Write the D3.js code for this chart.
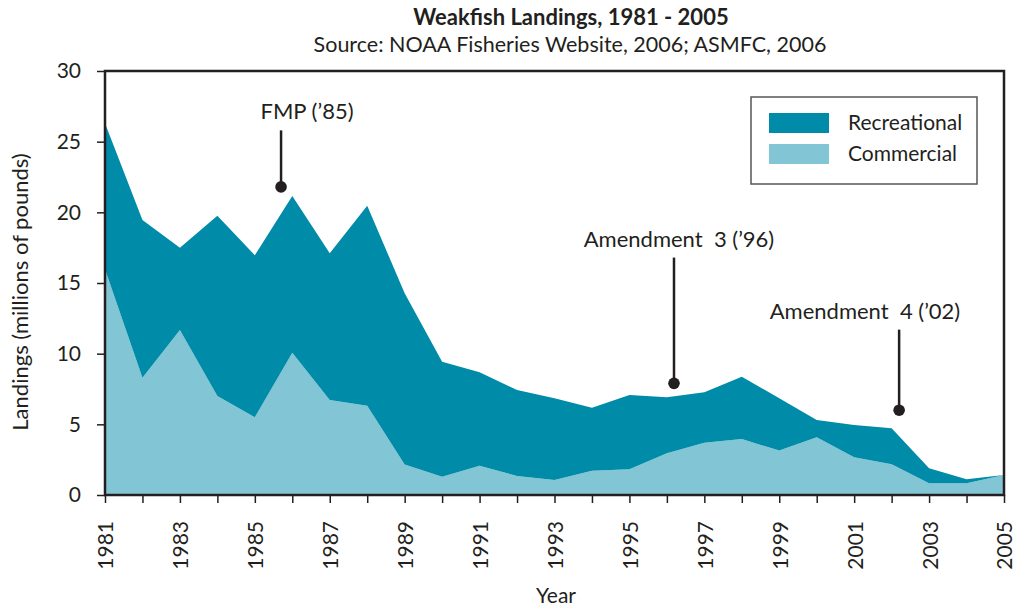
<!DOCTYPE html>
<html>
<head>
<meta charset="utf-8">
<script src="https://cdn.jsdelivr.net/npm/d3@7"></script>
<style>
  body { margin: 0; background: #fff; }
  svg text { font-family: Lato, "Open Sans", sans-serif; fill: #231f20; }
</style>
</head>
<body>
<div id="chart"></div>
<script>
// data
var years = [1981, 1982, 1983, 1984, 1985, 1986, 1987, 1988, 1989, 1990, 1991, 1992, 1993,
             1994, 1995, 1996, 1997, 1998, 1999, 2000, 2001, 2002, 2003, 2004, 2005];
var commercial = [15.97, 8.3, 11.68, 7.0, 5.5, 10.07, 6.72, 6.32, 2.15, 1.3, 2.07, 1.34, 1.06,
                  1.72, 1.82, 2.95, 3.7, 3.96, 3.14, 4.08, 2.67, 2.17, 0.83, 0.83, 1.42];
var recreational = [10.33, 11.16, 5.82, 12.75, 11.46, 11.09, 10.38, 14.15, 12.12, 8.13, 6.61, 6.09, 5.78,
                    4.46, 5.26, 3.96, 3.57, 4.41, 3.7, 1.23, 2.28, 2.55, 1.06, 0.28, 0];
var seriesNames = ["Recreational", "Commercial"];
var seriesColors = ["#008ba8", "#82c5d4"];
var yTicks = [0, 5, 10, 15, 20, 25, 30];
var xTickLabels = [1981, 1983, 1985, 1987, 1989, 1991, 1993, 1995, 1997, 1999, 2001, 2003, 2005];

// annotations: label, x position (year), dot value, top of the stem
var noteLabels = ["FMP (\u201985)", "Amendment\u00a0 3 (\u201996)", "Amendment\u00a0 4 (\u201902)"];
var noteYears = [1985.7, 1996.19, 2002.2];
var noteDots = [21.8, 7.9, 6.0];
var noteTops = [25.8, 16.8, 11.7];
var noteLabelX = [307, 679, 865];

var margin = {top: 71, right: 9, bottom: 112, left: 105},
    width = 1013 - margin.left - margin.right,
    height = 607 - margin.top - margin.bottom;

var svg = d3.select("#chart").append("svg")
    .attr("width", 1013)
    .attr("height", 607);

var g = svg.append("g")
    .attr("transform", "translate(" + margin.left + "," + margin.top + ")");

var x = d3.scaleLinear().domain([1981, 2005]).range([0, width]);
var y = d3.scaleLinear().domain([0, 30]).range([height, 0]);

var rows = years.map(function (yr, i) {
    return {year: yr, commercial: commercial[i], recreational: recreational[i]};
});
var stacked = d3.stack().keys(["commercial", "recreational"])(rows);

var area = d3.area()
    .x(function (d) { return x(d.data.year); })
    .y0(function (d) { return y(d[0]); })
    .y1(function (d) { return y(d[1]); });

g.selectAll("path.layer")
    .data(stacked)
    .enter().append("path")
    .attr("class", "layer")
    .attr("d", area)
    .attr("fill", function (d) { return d.key == "commercial" ? seriesColors[1] : seriesColors[0]; });

// Y axis
var yAxis = g.append("g")
    .call(d3.axisLeft(y).tickValues(yTicks).tickSize(8).tickPadding(16));
yAxis.select(".domain").remove();
yAxis.selectAll("line").attr("stroke", "#231f20").attr("stroke-width", 1.5);
yAxis.selectAll("text").style("font-size", "21px");

// X axis
var xAxis = g.append("g")
    .attr("transform", "translate(0," + height + ")")
    .call(d3.axisBottom(x).tickValues(years).tickSize(8)
        .tickFormat(function (d) { return xTickLabels.indexOf(d) >= 0 ? d : ""; }));
xAxis.select(".domain").remove();
xAxis.selectAll("line").attr("stroke", "#231f20").attr("stroke-width", 1.5);
xAxis.selectAll("text")
    .style("font-size", "21px")
    .attr("text-anchor", "end")
    .attr("transform", "rotate(-90)")
    .attr("x", -26)
    .attr("y", 0)
    .attr("dy", "0.38em");

// frame
g.append("rect")
    .attr("width", width)
    .attr("height", height)
    .attr("fill", "none")
    .attr("stroke", "#231f20")
    .attr("stroke-width", 2.5);

// axis titles
svg.append("text")
    .attr("x", 556)
    .attr("y", 603)
    .attr("text-anchor", "middle")
    .style("font-size", "21px")
    .text("Year");

svg.append("text")
    .attr("transform", "translate(28,292) rotate(-90)")
    .attr("text-anchor", "middle")
    .style("font-size", "22px")
    .text("Landings (millions of pounds)");

// titles
svg.append("text")
    .attr("x", 571)
    .attr("y", 25)
    .attr("text-anchor", "middle")
    .style("font-size", "22px")
    .style("font-weight", "bold")
    .text("Weakfish Landings, 1981 - 2005");

svg.append("text")
    .attr("x", 570)
    .attr("y", 52)
    .attr("text-anchor", "middle")
    .style("font-size", "21.5px")
    .text("Source: NOAA Fisheries Website, 2006; ASMFC, 2006");

// annotations
noteLabels.forEach(function (label, i) {
    var cx = x(noteYears[i]);
    g.append("line")
        .attr("x1", cx).attr("x2", cx)
        .attr("y1", y(noteTops[i])).attr("y2", y(noteDots[i]))
        .attr("stroke", "#231f20")
        .attr("stroke-width", 2.5);
    g.append("circle")
        .attr("cx", cx)
        .attr("cy", y(noteDots[i]))
        .attr("r", 5.8)
        .attr("fill", "#231f20");
    g.append("text")
        .attr("x", noteLabelX[i] - margin.left)
        .attr("y", y(noteTops[i]) - 11)
        .attr("text-anchor", "middle")
        .style("font-size", "22px")
        .text(label);
});

// legend
var legend = svg.append("g").attr("transform", "translate(751,97)");
legend.append("rect")
    .attr("width", 226)
    .attr("height", 87)
    .attr("fill", "#fff")
    .attr("stroke", "#555")
    .attr("stroke-width", 1.5);
seriesNames.forEach(function (name, i) {
    legend.append("rect")
        .attr("x", 18)
        .attr("y", 16 + i * 31)
        .attr("width", 60)
        .attr("height", 20)
        .attr("fill", seriesColors[i]);
    legend.append("text")
        .attr("x", 97)
        .attr("y", 33 + i * 31)
        .style("font-size", "21px")
        .text(name);
});
</script>
</body>
</html>
